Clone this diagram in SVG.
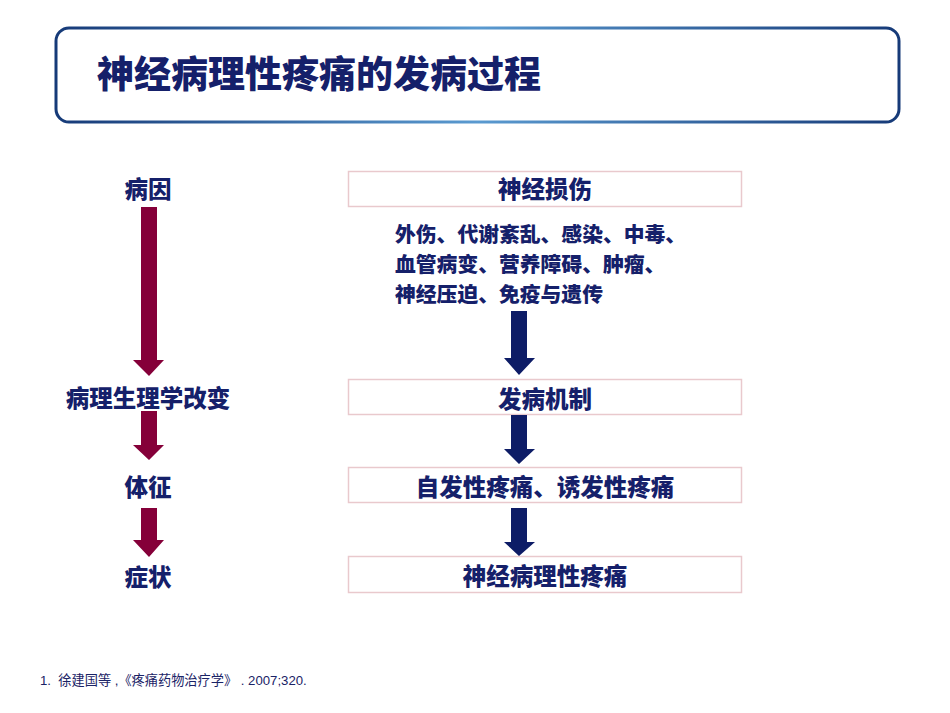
<svg xmlns="http://www.w3.org/2000/svg" width="950" height="713" viewBox="0 0 950 713">
<defs>
<linearGradient id="tb" x1="0" y1="0" x2="1" y2="0">
<stop offset="0" stop-color="#163a78"/>
<stop offset="0.5" stop-color="#5a9ad0"/>
<stop offset="1" stop-color="#163a78"/>
</linearGradient>
<style>
.t{font-family:"Noto Sans CJK SC","Liberation Sans",sans-serif;font-weight:900;fill:#15206a}
.box{fill:#ffffff;stroke:#e9c9cd;stroke-width:1.5}
.red{fill:#850039}
.blue{fill:#0d1c66}
</style>
</defs>
<rect width="950" height="713" fill="#ffffff"/>
<g id="title">
<rect x="56" y="28" width="843" height="94" rx="13" ry="13" fill="#ffffff" stroke="url(#tb)" stroke-width="3"/>
<text class="t" x="97" y="88" font-size="37">神经病理性疼痛的发病过程</text>
</g>
<g id="n-bingyin"><text class="t" x="148" y="198" font-size="23.5" text-anchor="middle">病因</text></g>
<g id="n-binglisheng"><text class="t" x="148" y="407" font-size="23.5" text-anchor="middle">病理生理学改变</text></g>
<g id="n-tizheng"><text class="t" x="148" y="496" font-size="23.5" text-anchor="middle">体征</text></g>
<g id="n-zhengzhuang"><text class="t" x="148" y="586" font-size="23.5" text-anchor="middle">症状</text></g>
<g id="n-sunshang">
<rect class="box" x="348.5" y="171.5" width="393" height="35"/>
<text class="t" x="545" y="198" font-size="23.5" text-anchor="middle">神经损伤</text>
</g>
<g id="n-causes">
<text class="t" x="395" y="242" font-size="20.8">外伤、代谢紊乱、感染、中毒、</text>
<text class="t" x="395" y="272" font-size="20.8">血管病变、营养障碍、肿瘤、</text>
<text class="t" x="395" y="302" font-size="20.8">神经压迫、免疫与遗传</text>
</g>
<g id="n-jizhi">
<rect class="box" x="348.5" y="379.5" width="393" height="35"/>
<text class="t" x="545" y="408" font-size="23.5" text-anchor="middle">发病机制</text>
</g>
<g id="n-zifa">
<rect class="box" x="348.5" y="467.5" width="393" height="35"/>
<text class="t" x="545" y="496" font-size="23.5" text-anchor="middle">自发性疼痛、诱发性疼痛</text>
</g>
<g id="n-shenjing">
<rect class="box" x="348.5" y="556.5" width="393" height="36"/>
<text class="t" x="545" y="585" font-size="23.5" text-anchor="middle">神经病理性疼痛</text>
</g>
<g id="connectors">
<polygon class="red" points="141,207 157,207 157,360 164,360 149,376 133,360 141,360"/>
<polygon class="red" points="141,411 157,411 157,445 164,445 149,460 133,445 141,445"/>
<polygon class="red" points="141,508 157,508 157,540 164,540 149,557 133,540 141,540"/>
<polygon class="blue" points="511,311 527,311 527,358 535,358 519,375 504,358 511,358"/>
<polygon class="blue" points="511,415 527,415 527,449 535,449 519,464 504,449 511,449"/>
<polygon class="blue" points="511,508 527,508 527,542 535,542 519,556 504,542 511,542"/>
</g>
<g id="footnote">
<text x="40" y="685" font-size="13.2" font-family="'Liberation Sans','Noto Sans CJK SC',sans-serif" fill="#1a2366" xml:space="preserve">1.  徐建国等 ,《疼痛药物治疗学》 . 2007;320.</text>
</g>
</svg>
